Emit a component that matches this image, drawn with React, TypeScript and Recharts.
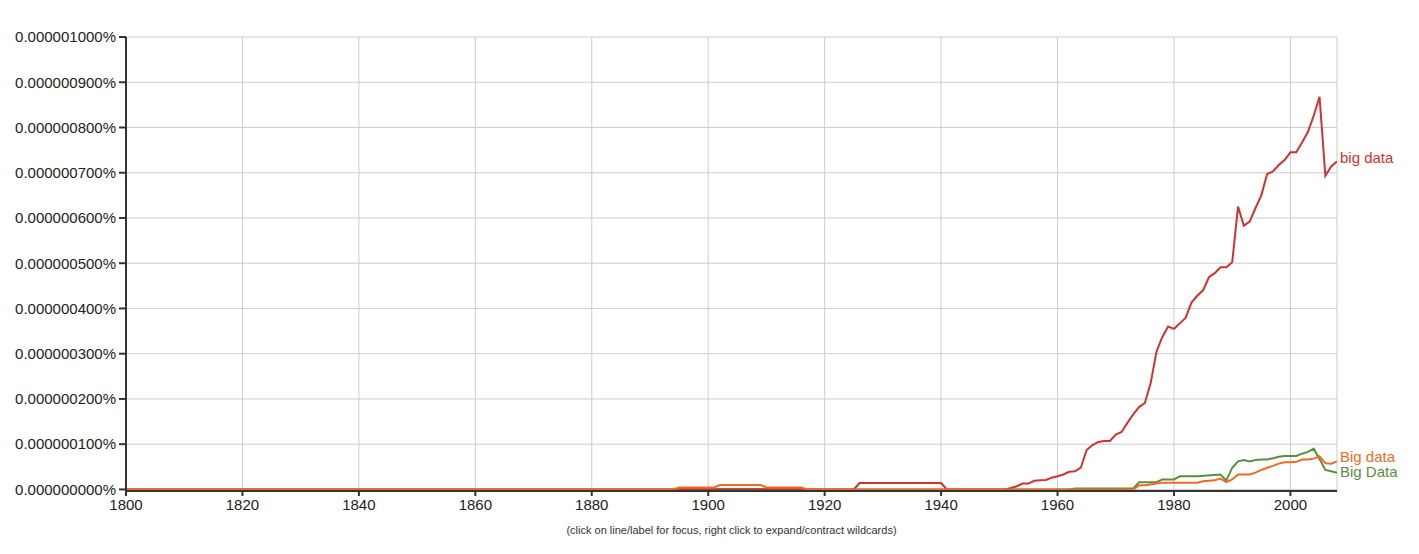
import React from "react";
import { LineChart, Line, XAxis, YAxis, CartesianGrid } from "recharts";

// Values are in units of 0.000000001% (so 1000 = 0.000001000%)
const bigDataLowerYears = [1800, 1925, 1926, 1940, 1941, 1951, 1952, 1953, 1954, 1955, 1956, 1957, 1958, 1959, 1960, 1961, 1962, 1963, 1964, 1965, 1966, 1967, 1968, 1969, 1970, 1971, 1972, 1973, 1974, 1975, 1976, 1977, 1978, 1979, 1980, 1981, 1982, 1983, 1984, 1985, 1986, 1987, 1988, 1989, 1990, 1991, 1992, 1993, 1994, 1995, 1996, 1997, 1998, 1999, 2000, 2001, 2002, 2003, 2004, 2005, 2006, 2007, 2008];
const bigDataLowerValues = [0, 0, 14, 14, 0, 0, 3, 7, 13, 13, 19, 20, 21, 26, 29, 33, 39, 40, 48, 87, 98, 105, 107, 107, 121, 127, 147, 166, 182, 191, 235, 305, 337, 360, 355, 367, 379, 413, 428, 440, 469, 478, 491, 491, 502, 625, 583, 592, 622, 650, 697, 703, 717, 728, 745, 745, 767, 790, 826, 868, 693, 714, 725];

const bigDataCapYears = [1800, 1894, 1895, 1901, 1902, 1909, 1910, 1916, 1917, 1973, 1974, 1975, 1976, 1977, 1978, 1984, 1985, 1986, 1987, 1988, 1989, 1990, 1991, 1992, 1993, 1994, 1995, 1996, 1997, 1998, 1999, 2000, 2001, 2002, 2003, 2004, 2005, 2006, 2007, 2008];
const bigDataCapValues = [0, 0, 4.5, 4.5, 9.5, 9.5, 4.5, 4.5, 0, 0, 9, 9, 11, 13, 15, 15, 18, 19, 20, 24, 16, 22, 33, 33, 33, 37, 43, 48, 52, 57, 60, 60, 61, 66, 66, 68, 73, 58, 57, 62];

const BigDataYears = [1800, 1894, 1895, 1916, 1917, 1962, 1963, 1973, 1974, 1977, 1978, 1980, 1981, 1984, 1988, 1989, 1990, 1991, 1992, 1993, 1994, 1995, 1996, 1997, 1998, 1999, 2000, 2001, 2002, 2003, 2004, 2005, 2006, 2007, 2008];
const BigDataValues = [0, 0, 0.8, 0.8, 0, 0, 2, 2, 16, 16, 22, 22, 29, 29, 33, 20, 48, 62, 65, 62, 65, 66, 66, 69, 72, 74, 74, 74, 79, 83, 90, 67, 43, 40, 37];

const xTicks = [1800, 1820, 1840, 1860, 1880, 1900, 1920, 1940, 1960, 1980, 2000];
const yTicks = [0, 100, 200, 300, 400, 500, 600, 700, 800, 900, 1000];

const seriesNames = ["big data", "Big data", "Big Data"];
const footnote = "(click on line/label for focus, right click to expand/contract wildcards)";

const toRows = (years: number[], values: number[]) =>
  years.map((year, i) => ({ year, value: values[i] }));

const redRows = toRows(bigDataLowerYears, bigDataLowerValues);
const orangeRows = toRows(bigDataCapYears, bigDataCapValues);
const greenRows = toRows(BigDataYears, BigDataValues);

const RED = "#d03232";
const ORANGE = "#ee6a1e";
const GREEN = "#5c8d42";
const FONT = "'Liberation Sans', Arial, Helvetica, sans-serif";

const makeEndLabel = (name: string, color: string, count: number, dy: number) =>
  (props: any) => {
    const { x, y, index } = props;
    if (index !== count - 1) return <g />;
    return (
      <text x={x + 3} y={y + dy} fill={color} fontSize={15} fontFamily={FONT} dominantBaseline="middle">
        {name}
      </text>
    );
  };

const fmtY = (v: number) => (v * 1e-9).toFixed(9) + "%";

export default function App() {
  return (
    <div style={{ position: "absolute", left: 0, top: 0, width: 1419, height: 554, background: "#fff" }}>
      <LineChart
        width={1419}
        height={554}
        margin={{ top: 37, right: 82, bottom: 33, left: 6 }}
      >
        <CartesianGrid stroke="#cccccc" strokeWidth={1} />
        <XAxis
          type="number"
          dataKey="year"
          domain={[1800, 2008]}
          ticks={xTicks}
          allowDataOverflow
          height={30}
          tickSize={5}
          tickMargin={3}
          axisLine={{ stroke: "#333", strokeWidth: 2 }}
          tickLine={{ stroke: "#333", strokeWidth: 2 }}
          tick={{ fill: "#222", fontSize: 15, fontFamily: FONT }}
        />
        <YAxis
          type="number"
          domain={[-3.5, 1000]}
          ticks={yTicks}
          allowDataOverflow
          width={120}
          tickFormatter={fmtY}
          tickSize={7}
          tickMargin={3}
          axisLine={{ stroke: "#333", strokeWidth: 2 }}
          tickLine={{ stroke: "#333", strokeWidth: 2 }}
          tick={{ fill: "#222", fontSize: 15, fontFamily: FONT }}
        />
        <Line
          data={greenRows}
          dataKey="value"
          type="linear"
          stroke={GREEN}
          strokeWidth={2}
          dot={false}
          isAnimationActive={false}
          label={makeEndLabel(seriesNames[2], GREEN, greenRows.length, 0)}
        />
        <Line
          data={redRows}
          dataKey="value"
          type="linear"
          stroke={RED}
          strokeWidth={2}
          dot={false}
          isAnimationActive={false}
          label={makeEndLabel(seriesNames[0], RED, redRows.length, -2)}
        />
        <Line
          data={orangeRows}
          dataKey="value"
          type="linear"
          stroke={ORANGE}
          strokeWidth={2}
          dot={false}
          isAnimationActive={false}
          label={makeEndLabel(seriesNames[1], ORANGE, orangeRows.length, -3)}
        />
      </LineChart>
      <div
        style={{
          position: "absolute",
          left: 126,
          width: 1211,
          top: 524,
          textAlign: "center",
          fontSize: 11,
          fontFamily: FONT,
          color: "#333",
        }}
      >
        {footnote}
      </div>
    </div>
  );
}
